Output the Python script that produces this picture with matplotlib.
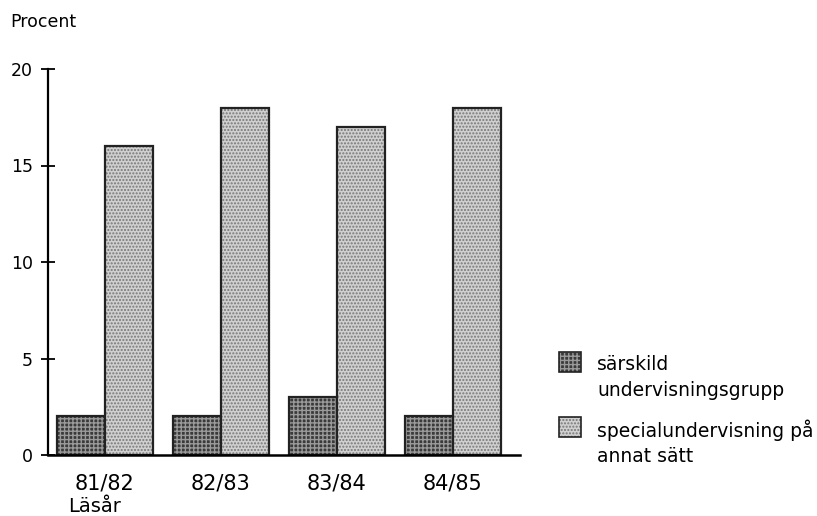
import matplotlib.pyplot as plt
from matplotlib.patches import Rectangle
import numpy as np

plt.rcParams['font.family'] = ['DejaVu Sans']

# ── data ──
years = ['81/82', '82/83', '83/84', '84/85']
sarskild = [2, 2, 3, 2]
special = [16, 18, 17, 18]
labels = ['särskild\nundervisningsgrupp', 'specialundervisning på\nannat sätt']

C_DARK, H_DARK = '#3a3a3a', '#9a9a9a'
C_LIGHT, H_LIGHT = '#d0d0d0', '#777777'

fig = plt.figure(figsize=(8.17, 5.16), dpi=100)
ax = fig.add_axes([48/817, 1 - 455/516, (520 - 48)/817, (455 - 69)/516])

x = np.arange(len(years))
w = 0.414

# dark stipple bars
ax.bar(x - w/2, sarskild, w, facecolor=C_DARK, edgecolor=H_DARK, hatch='++++', linewidth=0)
ax.bar(x - w/2, sarskild, w, fill=False, edgecolor='#222222', linewidth=1.6)
# light stipple bars
ax.bar(x + w/2, special, w, facecolor=C_LIGHT, edgecolor=H_LIGHT, hatch='.....', linewidth=0)
ax.bar(x + w/2, special, w, fill=False, edgecolor='#222222', linewidth=1.6)

ax.set_xlim(-0.491, 3.578)
ax.set_ylim(0, 20)
ax.set_yticks([0, 5, 10, 15, 20])
ax.set_xticks(x)
ax.set_xticklabels(years, fontsize=15)
ax.tick_params(axis='x', length=0, pad=13)
ax.tick_params(axis='y', direction='inout', length=10, width=1.3, labelsize=12.5, pad=6)
for s in ['top', 'right']:
    ax.spines[s].set_visible(False)
ax.spines['left'].set_linewidth(1.6)
ax.spines['bottom'].set_linewidth(1.8)

fig.text(10/817, 1 - 22/516, 'Procent', fontsize=12.5, va='center', ha='left')
fig.text(95/817, 1 - 507/516, 'Läsår', fontsize=14, va='center', ha='center')

# legend (drawn by hand for line spacing like the original)
leg = [(352, 365, labels[0], C_DARK, H_DARK, '++++'),
       (417, 430, labels[1], C_LIGHT, H_LIGHT, '.....')]
for top, ty, lab, fc, hc, hatch in leg:
    fig.patches.append(Rectangle((559/817, 1 - (top + 20)/516), 22/817, 20/516,
                                 transform=fig.transFigure, facecolor=fc,
                                 edgecolor=hc, hatch=hatch, linewidth=0))
    fig.patches.append(Rectangle((559/817, 1 - (top + 20)/516), 22/817, 20/516,
                                 transform=fig.transFigure, fill=False,
                                 edgecolor='#222222', linewidth=1.2))
    l1, l2 = lab.split('\n')
    fig.text(597/817, 1 - ty/516, l1, fontsize=13.5, va='center', ha='left')
    fig.text(597/817, 1 - (ty + 26)/516, l2, fontsize=13.5, va='center', ha='left')

plt.savefig('out.png', dpi=100)
